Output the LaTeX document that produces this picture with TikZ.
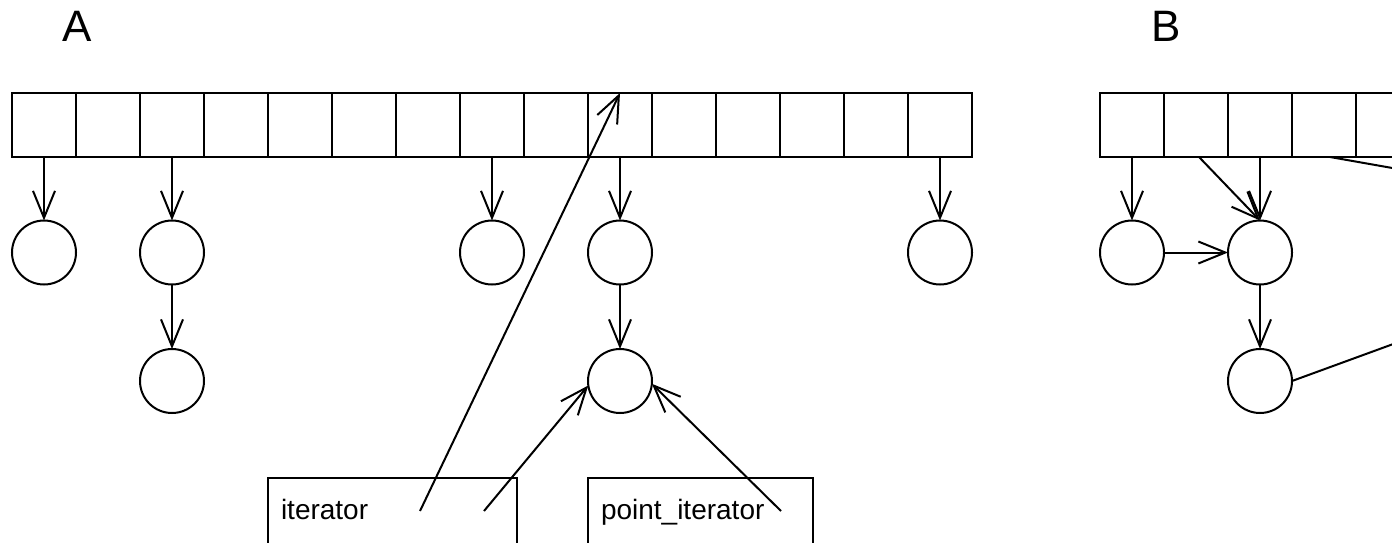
\documentclass[tikz,border=0pt]{standalone}
\usepackage{fontspec}
\setmainfont{Liberation Sans}
\usetikzlibrary{arrows.meta}
\begin{document}
\begin{tikzpicture}[x=1pt,y=-1pt,line width=2pt,
  cell/.style={draw,minimum width=64pt,minimum height=64pt,inner sep=0pt,outer sep=0pt},
  bucket/.style={draw,circle,minimum size=64pt,inner sep=0pt,outer sep=0pt},
  ptr/.style={-{Straight Barb[length=27pt,width=22pt,line width=2pt]}},
  biglbl/.style={font=\fontsize{44}{50}\selectfont,anchor=base west,inner sep=0pt},
  txt/.style={font=\fontsize{28}{32}\selectfont,anchor=base west,inner sep=0pt},
  itbox/.style={draw,anchor=north west,minimum height=90pt,inner sep=0pt,outer sep=0pt}]
\useasboundingbox (0,0) rectangle (1392,542);
\clip (0,0) rectangle (1392,542);

% labels
\node[biglbl] (labA) at (61,41) {A};
\node[biglbl] (labB) at (1150,41) {B};

% ---------- A ----------
\foreach \i in {0,...,14} \node[cell] (a\i) at ({44+64*\i},125) {};
\node[bucket] (ka0)  at (44,252.5) {};
\node[bucket] (ka2)  at (172,252.5) {};
\node[bucket] (ka2b) at (172,381) {};
\node[bucket] (ka7)  at (492,252.5) {};
\node[bucket] (ka9)  at (620,252.5) {};
\node[bucket] (ka9b) at (620,381) {};
\node[bucket] (ka14) at (940,252.5) {};

\draw[ptr] (a0.south) -- (ka0.north);
\draw[ptr] (a2.south) -- (ka2.north);
\draw[ptr] (ka2.south) -- (ka2b.north);
\draw[ptr] (a7.south) -- (ka7.north);
\draw[ptr] (a9.south) -- (ka9.north);
\draw[ptr] (ka9.south) -- (ka9b.north);
\draw[ptr] (a14.south) -- (ka14.north);

\node[itbox,minimum width=249pt] (itb) at (268,478) {};
\node[itbox,minimum width=225pt] (pib) at (588,478) {};
\node[txt] (itt) at (280,519) {iterator};
\node[txt] (pit) at (600,519) {point\_iterator};

\coordinate (s1) at (420,511);
\coordinate (s2) at (484,511);
\coordinate (s3) at (781,511);
\draw[ptr] (s1) -- (a9.north);
\draw[ptr] (s2) -- (ka9b.188);
\draw[ptr] (s3) -- (ka9b.355);

% ---------- B ----------
\foreach \i in {0,...,5} \node[cell] (b\i) at ({1132+64*\i},125) {};
\node[bucket] (kb0)  at (1132,252.5) {};
\node[bucket] (kb2)  at (1260,252.5) {};
\node[bucket] (kb2b) at (1260,381) {};

\draw[ptr] (b0.south) -- (kb0.north);
\draw[ptr] ([xshift=3pt]b1.south) -- (kb2.north);
\draw[ptr] (b2.south) -- (kb2.north);
\draw[ptr] (kb0) -- (kb2);
\draw[ptr] (kb2.south) -- (kb2b.north);

\coordinate (e1) at (1500,187);
\coordinate (e2) at (1500,305);
\draw ([xshift=6pt]b3.south) -- (e1);
\draw (kb2b.east) -- (e2);
\end{tikzpicture}
\end{document}
